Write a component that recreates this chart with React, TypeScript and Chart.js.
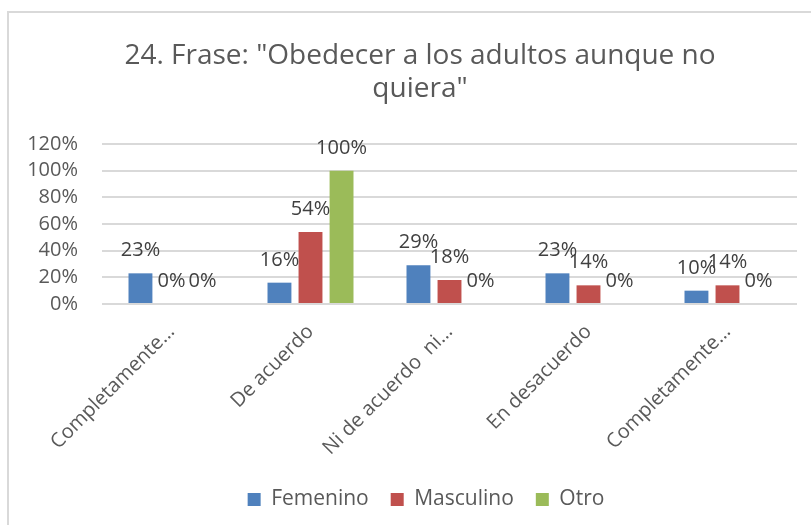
import React, { useEffect, useRef } from "react";
import { Chart, registerables } from "chart.js";

Chart.register(...registerables);

const categories = [
  "Completamente…",
  "De acuerdo",
  "Ni de acuerdo  ni…",
  "En desacuerdo",
  "Completamente…",
];
const femenino = [0.23, 0.16, 0.29, 0.23, 0.1];
const masculino = [0, 0.54, 0.18, 0.14, 0.14];
const otro = [0, 1, 0, 0, 0];
const titleLines = ['24. Frase: "Obedecer a los adultos aunque no', 'quiera"'];

const FONT = "'Open Sans', sans-serif";
const TEXT = "#595959";

const framePlugin = {
  id: "frame",
  beforeDraw(chart: any) {
    const ctx = chart.ctx;
    ctx.save();
    ctx.fillStyle = "#ffffff";
    ctx.fillRect(0, 0, chart.width, chart.height);
    ctx.strokeStyle = "#d9d9d9";
    ctx.lineWidth = 2;
    ctx.strokeRect(8, 12, 1000, 1000);
    ctx.restore();
  },
};

// shift the centring box of title and legend (the outer frame extends past the picture)
const centerPlugin = {
  id: "centerShift",
  afterLayout(chart: any) {
    if (chart.titleBlock) chart.titleBlock.left = 43;
    if (chart.legend) chart.legend.left = 55;
  },
};

const labelPlugin = {
  id: "barLabels",
  afterDatasetsDraw(chart: any) {
    const ctx = chart.ctx;
    ctx.save();
    ctx.font = `20px ${FONT}`;
    ctx.fillStyle = "#404040";
    ctx.textAlign = "center";
    ctx.textBaseline = "alphabetic";
    chart.data.datasets.forEach((ds: any, i: number) => {
      const meta = chart.getDatasetMeta(i);
      meta.data.forEach((bar: any, j: number) => {
        const v = ds.data[j];
        const txt = Math.round(v * 100) + "%";
        ctx.fillText(txt, bar.x, bar.y - 17);
      });
    });
    ctx.restore();
  },
};

export default function App() {
  const ref = useRef<HTMLCanvasElement>(null);
  useEffect(() => {
    document.body.style.margin = "0";
    const chart = new Chart(ref.current!, {
      type: "bar",
      data: {
        labels: categories,
        datasets: [
          { label: "Femenino", data: femenino, backgroundColor: "#4F81BD" },
          { label: "Masculino", data: masculino, backgroundColor: "#C0504D" },
          { label: "Otro", data: otro, backgroundColor: "#9BBB59" },
        ],
      },
      options: {
        animation: false,
        responsive: false,
        layout: { padding: { left: 0, right: 14, top: 0, bottom: 5 } },
        datasets: {
          bar: { categoryPercentage: 0.67, barPercentage: 0.77 },
        },
        plugins: {
          title: {
            display: true,
            text: titleLines,
            color: TEXT,
            font: { family: FONT, size: 28, weight: "normal", lineHeight: 33 / 28 },
            padding: { top: 40, bottom: 38 },
          },
          legend: {
            position: "bottom",
            labels: {
              color: TEXT,
              font: { family: FONT, size: 21 },
              boxWidth: 13,
              boxHeight: 13,
              padding: 22,
            },
          },
          tooltip: { enabled: false },
        },
        scales: {
          x: {
            grid: { display: false },
            border: { display: false },
            ticks: {
              color: TEXT,
              font: { family: FONT, size: 20 },
              minRotation: 45,
              maxRotation: 45,
              autoSkip: false,
              padding: 8,
            },
            afterFit(scale: any) {
              scale.height = 163;
            },
          },
          y: {
            min: 0,
            max: 1.2,
            grid: { color: "#d9d9d9", lineWidth: 2, drawTicks: false },
            border: { display: false },
            ticks: {
              stepSize: 0.2,
              autoSkip: false,
              color: TEXT,
              font: { family: FONT, size: 20 },
              padding: 24,
              callback: (v: any) => Math.round(Number(v) * 100) + "%",
            },
            afterFit(scale: any) {
              scale.width = 102;
            },
          },
        },
      },
      plugins: [framePlugin, centerPlugin, labelPlugin],
    });
    return () => chart.destroy();
  }, []);
  return (
    <div style={{ width: 811, height: 525 }}>
      <canvas ref={ref} width={811} height={525} style={{ display: "block" }} />
    </div>
  );
}
